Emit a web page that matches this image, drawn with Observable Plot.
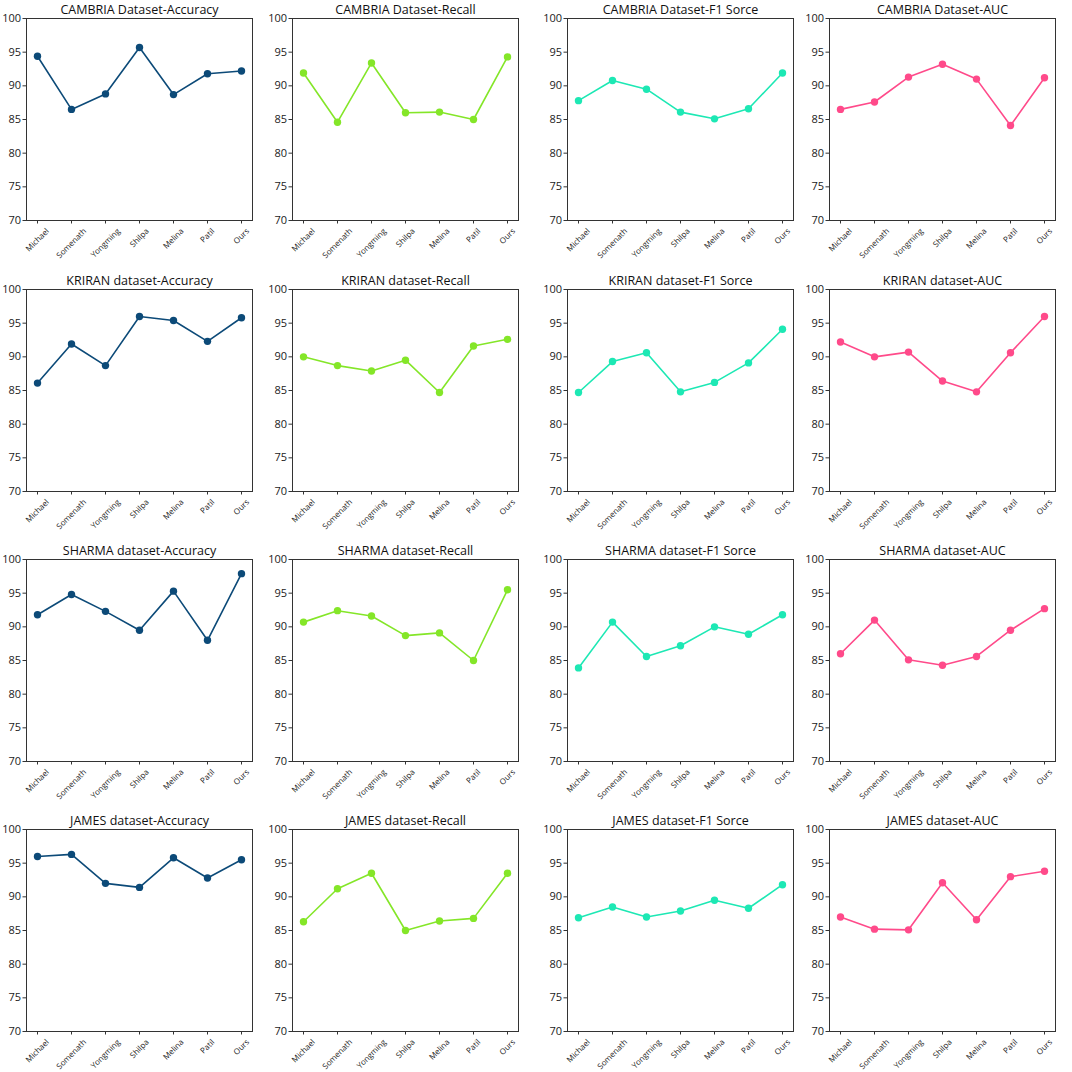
<!DOCTYPE html>
<html><head><meta charset="utf-8">
<script src="https://cdn.jsdelivr.net/npm/d3@7"></script>
<script src="https://cdn.jsdelivr.net/npm/@observablehq/plot@0.6"></script>
<style>
body{margin:0;background:#fff;}
#root{position:relative;width:1072px;height:1072px;background:#fff;}
#root svg{position:absolute;}
</style></head><body><div id="root"></div>
<script>
const methods = ["Michael","Somenath","Yongming","Shilpa","Melina","Patil","Ours"];
const datasets = ["CAMBRIA Dataset","KRIRAN dataset","SHARMA dataset","JAMES dataset"];
const metrics = ["Accuracy","Recall","F1 Sorce","AUC"];
const metricColors = ["#0c4a78","#84e628","#1de8b4","#ff4a8a"];
const yTicks = [70,75,80,85,90,95,100];

const cambriaAccuracy = [94.4,86.5,88.8,95.7,88.7,91.8,92.2];
const cambriaRecall   = [91.9,84.6,93.4,86.0,86.1,85.0,94.3];
const cambriaF1       = [87.8,90.8,89.5,86.1,85.1,86.6,91.9];
const cambriaAUC      = [86.5,87.6,91.3,93.2,91.0,84.1,91.2];

const kriranAccuracy = [86.1,91.9,88.7,96.0,95.4,92.3,95.8];
const kriranRecall   = [90.0,88.7,87.9,89.5,84.7,91.6,92.6];
const kriranF1       = [84.7,89.3,90.6,84.8,86.2,89.1,94.1];
const kriranAUC      = [92.2,90.0,90.7,86.4,84.8,90.6,96.0];

const sharmaAccuracy = [91.8,94.8,92.3,89.5,95.3,88.0,97.9];
const sharmaRecall   = [90.7,92.4,91.6,88.7,89.1,85.0,95.5];
const sharmaF1       = [83.9,90.7,85.6,87.2,90.0,88.9,91.8];
const sharmaAUC      = [86.0,91.0,85.1,84.3,85.6,89.5,92.7];

const jamesAccuracy = [96.0,96.3,92.0,91.4,95.8,92.8,95.5];
const jamesRecall   = [86.3,91.2,93.5,85.0,86.4,86.8,93.5];
const jamesF1       = [86.9,88.5,87.0,87.9,89.5,88.3,91.8];
const jamesAUC      = [87.0,85.2,85.1,92.1,86.6,93.0,93.8];

const grid = [
  [cambriaAccuracy, cambriaRecall, cambriaF1, cambriaAUC],
  [kriranAccuracy, kriranRecall, kriranF1, kriranAUC],
  [sharmaAccuracy, sharmaRecall, sharmaF1, sharmaAUC],
  [jamesAccuracy, jamesRecall, jamesF1, jamesAUC]
];

// layout
const frameLeft = [26, 292, 567, 829];
const frameTop = [18, 289, 559, 829];
const frameW = 226, frameH = 202;
const mL = 34, mR = 8, mT = 26, mB = 46;
const font = "'Open Sans', 'Noto Sans', sans-serif";
const xFont = 8;

// measure x-label widths so rotated labels are centred under their ticks (top of rotated box at tick end)
const ctx = document.createElement("canvas").getContext("2d");
ctx.font = `${xFont}px 'Open Sans'`;
const xLabelOffset = m => {
  const w = ctx.measureText(m).width;
  const h = xFont * 1.0;
  return 3.5 + 3 + (w + h) * Math.SQRT1_2 / 2;
};

const root = document.getElementById("root");
grid.forEach((row, r) => {
  row.forEach((values, c) => {
    const data = methods.map((m, i) => ({method: m, value: values[i]}));
    const color = metricColors[c];
    const title = `${datasets[r]}-${metrics[c]}`;
    const chart = Plot.plot({
      width: mL + frameW + mR,
      height: mT + frameH + mB,
      marginLeft: mL, marginRight: mR, marginTop: mT, marginBottom: mB,
      style: {fontFamily: font, background: "transparent", overflow: "visible", color: "#222"},
      x: {type: "point", domain: methods, padding: 0.3},
      y: {domain: [70, 100]},
      marks: [
        Plot.axisX({tickFormat: () => "", tickSize: 3.5, label: null, stroke: "#333"}),
        ...methods.map(m => Plot.text([m], {
          x: d => d, frameAnchor: "bottom", rotate: -45, textAnchor: "middle", lineAnchor: "middle",
          dy: xLabelOffset(m), fontSize: xFont, fill: "#222"
        })),
        Plot.axisY({ticks: yTicks, fontSize: 11, tickSize: 3.5, tickPadding: 2, label: null, stroke: "#333"}),
        Plot.line(data, {x: "method", y: "value", stroke: color, strokeWidth: 1.6}),
        Plot.dot(data, {x: "method", y: "value", fill: color, r: 3.7}),
        Plot.frame({stroke: "#333", strokeWidth: 1}),
        Plot.text([title], {frameAnchor: "top", lineAnchor: "bottom", dy: -5, fontSize: 12.5, fill: "#111"})
      ]
    });
    chart.style.left = (frameLeft[c] - mL) + "px";
    chart.style.top = (frameTop[r] - mT) + "px";
    root.appendChild(chart);
  });
});
</script>
</body></html>
